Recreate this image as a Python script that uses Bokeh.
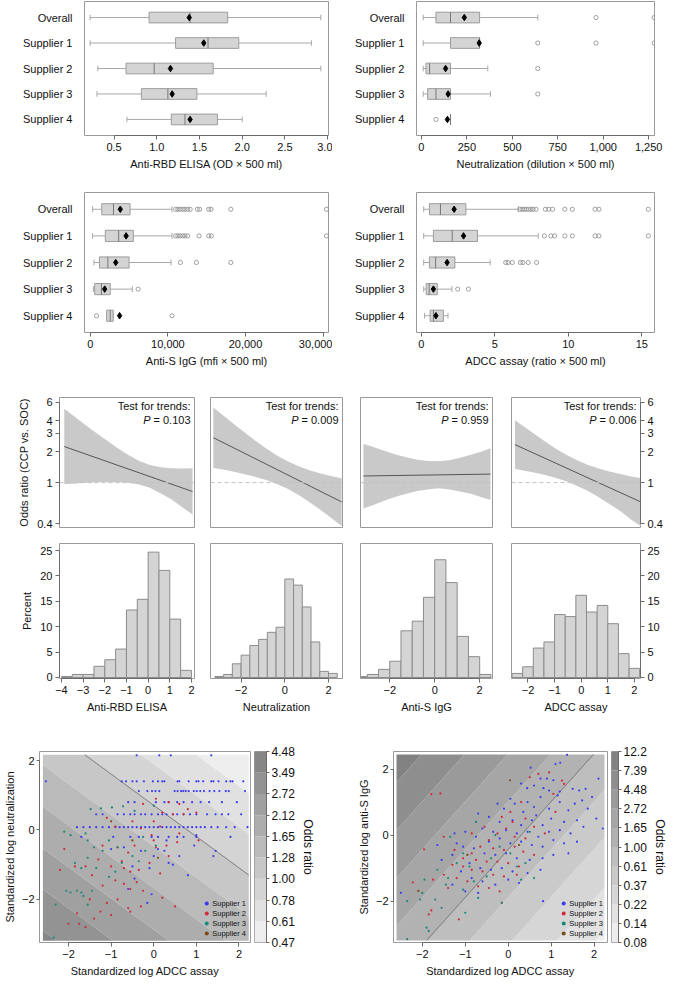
import numpy as np
from bokeh.plotting import figure
from bokeh.layouts import row, column
from bokeh.models import Range1d, FixedTicker, Label, Span, LinearAxis, LogAxis, Legend, LegendItem
from bokeh.embed import file_html
from bokeh.resources import INLINE

# ======================= DATA =======================
box_cats = ["Overall", "Supplier 1", "Supplier 2", "Supplier 3", "Supplier 4"]

elisa_low = [0.22, 0.22, 0.31, 0.30, 0.65]
elisa_q1 = [0.91, 1.22, 0.64, 0.82, 1.17]
elisa_med = [1.39, 1.60, 0.97, 1.13, 1.33]
elisa_q3 = [1.83, 1.96, 1.66, 1.47, 1.71]
elisa_high = [2.92, 2.81, 2.92, 2.28, 2.00]
elisa_mean = [1.38, 1.55, 1.16, 1.18, 1.39]
elisa_out = [[], [], [], [], []]

neut_low = [10, 10, 10, 10, 160]
neut_q1 = [80, 160, 25, 34, 160]
neut_med = [160, 320, 45, 80, 160]
neut_q3 = [320, 320, 160, 160, 160]
neut_high = [640, 320, 365, 380, 160]
neut_mean = [236, 318, 133, 147, 143]
neut_out = [[960, 1280], [640, 960, 1280], [640], [640], [80]]

igg_low = [290, 290, 460, 380, 2100]
igg_q1 = [1470, 1930, 1170, 550, 2100]
igg_med = [2980, 3650, 2260, 1430, 2560]
igg_q3 = [5120, 5540, 4990, 2560, 2940]
igg_high = [10520, 10520, 10400, 5410, 2940]
igg_mean = [3860, 4610, 3270, 1850, 3770]
igg_out = [[10990, 11280, 11570, 11910, 12200, 12540, 12870, 13800, 14090, 15260, 15560, 18110, 30440],
           [10990, 11280, 11570, 11910, 12200, 12540, 14010, 15260, 15600, 30440],
           [11610, 13670, 18110],
           [6160],
           [800, 10520]]

adcc_low = [0.16, 0.16, 0.16, 0.16, 0.22]
adcc_q1 = [0.55, 0.82, 0.55, 0.33, 0.60]
adcc_med = [1.30, 2.10, 0.97, 0.53, 0.82]
adcc_q3 = [3.03, 3.82, 2.28, 1.08, 1.50]
adcc_high = [6.60, 7.95, 4.68, 2.08, 1.81]
adcc_mean = [2.23, 2.87, 1.75, 0.82, 0.99]
adcc_out = [[6.70, 6.85, 7.00, 7.15, 7.30, 7.45, 7.60, 7.80, 8.44, 8.66, 8.92, 9.76, 10.27, 11.82, 12.08, 15.44],
            [8.37, 8.81, 9.06, 9.76, 10.27, 11.82, 12.08, 15.44],
            [5.74, 5.90, 6.19, 6.74, 6.91, 7.27, 7.84],
            [2.47, 3.20],
            []]

# odds ratio curves (panel b, top)
or_names = ["Anti-RBD ELISA", "Neutralization", "Anti-S IgG", "ADCC assay"]
or_pvalues = ["0.103", "0.009", "0.959", "0.006"]
or1_x = [-3.87, -3.37, -2.88, -2.39, -1.89, -1.40, -0.91, -0.41, 0.08, 0.57, 1.07, 1.56, 2.05]
or1_hi = [5.20, 4.34, 3.61, 3.03, 2.55, 2.16, 1.85, 1.62, 1.48, 1.41, 1.38, 1.37, 1.38]
or1_lo = [0.97, 0.98, 1.00, 1.01, 1.01, 1.01, 1.00, 0.96, 0.89, 0.79, 0.69, 0.58, 0.49]
or1_fit = [2.24, 0.82]
or2_x = [-3.27, -2.77, -2.28, -1.79, -1.30, -0.85, -0.36, 0.13, 0.63, 1.12, 1.61, 2.10, 2.60]
or2_hi = [5.37, 4.41, 3.63, 3.01, 2.50, 2.14, 1.83, 1.61, 1.44, 1.32, 1.23, 1.16, 1.10]
or2_lo = [1.39, 1.33, 1.27, 1.20, 1.13, 1.06, 0.97, 0.87, 0.76, 0.65, 0.55, 0.46, 0.38]
or2_fit = [2.73, 0.65]
or3_x = [-3.17, -2.70, -2.22, -1.74, -1.26, -0.78, -0.30, 0.17, 0.65, 1.13, 1.61, 2.09, 2.48]
or3_hi = [2.39, 2.20, 2.03, 1.88, 1.76, 1.67, 1.62, 1.61, 1.65, 1.74, 1.86, 2.01, 2.15]
or3_lo = [0.56, 0.61, 0.67, 0.73, 0.78, 0.83, 0.86, 0.88, 0.86, 0.82, 0.78, 0.72, 0.68]
or3_fit = [1.16, 1.21]
or4_x = [-2.49, -2.09, -1.68, -1.28, -0.92, -0.51, -0.15, 0.26, 0.66, 1.06, 1.47, 1.87, 2.24]
or4_hi = [4.04, 3.40, 2.86, 2.43, 2.11, 1.83, 1.65, 1.48, 1.37, 1.28, 1.21, 1.15, 1.11]
or4_lo = [1.36, 1.30, 1.24, 1.17, 1.10, 1.02, 0.93, 0.83, 0.72, 0.62, 0.53, 0.44, 0.38]
or4_fit = [2.34, 0.65]
or_ticks = [0.4, 1, 2, 3, 4, 6]

# histograms (panel b, bottom)
h1_edges = [-4.0, -3.5, -3.0, -2.5, -2.0, -1.5, -1.0, -0.5, 0.0, 0.5, 1.0, 1.5, 2.0]
h1_pct = [0.2, 0.6, 0.6, 2.2, 3.5, 5.6, 13.3, 15.4, 24.7, 21.1, 11.5, 1.4]
h2_edges = [-3.2, -2.8, -2.4, -2.0, -1.6, -1.2, -0.8, -0.4, 0.0, 0.4, 0.8, 1.2, 1.6, 2.0, 2.4]
h2_pct = [0.2, 0.6, 2.7, 4.4, 6.3, 7.5, 8.9, 9.9, 19.4, 18.2, 13.9, 7.0, 1.2, 0.8]
h3_edges = [-3.5, -3.0, -2.5, -2.0, -1.5, -1.0, -0.5, 0.0, 0.5, 1.0, 1.5, 2.0, 2.5]
h3_pct = [0.2, 0.6, 1.6, 3.2, 9.2, 11.1, 15.8, 23.2, 18.7, 8.1, 4.1, 0.6]
h4_edges = [-2.6, -2.2, -1.8, -1.4, -1.0, -0.6, -0.2, 0.2, 0.6, 1.0, 1.4, 1.8, 2.2]
h4_pct = [0.8, 2.1, 5.8, 7.0, 12.4, 12.0, 16.2, 12.9, 14.2, 10.6, 4.7, 1.8]
pct_ticks = [0, 5, 10, 15, 20, 25]

# panel c / d: odds-ratio contour bands (boundary lines y = slope*x + intercept)
c_levels = [0.47, 0.61, 0.78, 1.00, 1.28, 1.65, 2.12, 2.72, 3.49, 4.48]
c_level_labels = ["0.47", "0.61", "0.78", "1.00", "1.28", "1.65", "2.12", "2.72", "3.49", "4.48"]
c_intercepts = [4.30, 3.06, 1.89, 0.71, -0.47, -1.67, -2.87, -4.05, -5.24, -6.43]
c_slope = -0.90
c_colors = ["#eeeeee", "#e1e1e1", "#d4d4d4", "#c7c7c7", "#bababa", "#adadad", "#a0a0a0", "#939393", "#868686"]
d_levels = [0.08, 0.14, 0.22, 0.37, 0.61, 1.00, 1.65, 2.72, 4.48, 7.39, 12.2]
d_level_labels = ["0.08", "0.14", "0.22", "0.37", "0.61", "1.00", "1.65", "2.72", "4.48", "7.39", "12.2"]
d_intercepts = [-7.76, -6.14, -4.83, -3.32, -1.885, -0.435, 1.015, 2.465, 3.915, 5.365, 6.82]
d_slope = 1.45
d_colors = ["#eeeeee", "#e2e2e2", "#d6d6d6", "#cacaca", "#bebebe", "#b2b2b2", "#a6a6a6", "#9a9a9a", "#8e8e8e", "#828282"]

suppliers = ["Supplier 1", "Supplier 2", "Supplier 3", "Supplier 4"]

# panel c points: (standardized log ADCC, standardized log neutralization)
c_sup1 = [(-0.40, 2.15), (0.13, 2.15), (0.40, 2.15), (1.35, 2.15),
          (-2.53, 1.40), (-0.75, 1.40), (-0.65, 1.40), (-0.50, 1.40), (-0.40, 1.40), (-0.23, 1.40), (-0.02, 1.40),
          (0.10, 1.40), (0.20, 1.40), (0.25, 1.40), (0.56, 1.40), (0.60, 1.40), (0.82, 1.40), (1.00, 1.40),
          (1.05, 1.40), (1.16, 1.40), (1.35, 1.40), (1.40, 1.40), (1.52, 1.40), (1.70, 1.40), (1.80, 1.40),
          (1.85, 1.40), (2.10, 1.40),
          (-0.35, 1.12), (-0.15, 1.12), (-0.04, 1.12), (0.04, 1.12), (0.13, 1.12), (0.49, 1.12), (0.56, 1.12),
          (0.64, 1.12), (0.69, 1.12), (0.75, 1.12), (0.82, 1.12), (0.94, 1.12), (1.01, 1.12), (1.09, 1.12),
          (1.18, 1.12), (1.31, 1.12), (1.42, 1.12), (1.54, 1.12), (1.69, 1.12), (1.76, 1.12), (2.14, 1.12),
          (-0.60, 0.80), (-0.45, 0.80), (0.05, 0.80), (0.25, 0.80), (0.35, 0.80), (0.55, 0.80), (0.70, 0.80),
          (0.90, 0.80), (1.10, 0.80), (1.30, 0.80), (1.60, 0.80), (1.95, 0.80),
          (-1.35, 0.45), (-1.20, 0.45), (-0.85, 0.45), (-0.70, 0.45), (-0.55, 0.45), (-0.45, 0.45), (-0.30, 0.45),
          (-0.20, 0.45), (-0.05, 0.45), (0.10, 0.45), (0.20, 0.45), (0.30, 0.45), (0.45, 0.45), (0.55, 0.45),
          (0.70, 0.45), (0.85, 0.45), (1.00, 0.45), (1.25, 0.45), (1.45, 0.45), (1.60, 0.45), (1.75, 0.45),
          (2.05, 0.45),
          (-1.80, 0.08), (-1.65, 0.08), (-1.50, 0.08), (-1.35, 0.08), (-1.20, 0.08), (-1.05, 0.08), (-0.90, 0.08),
          (-0.80, 0.08), (-0.70, 0.08), (-0.60, 0.08), (-0.50, 0.08), (-0.40, 0.08), (-0.30, 0.08), (-0.20, 0.08),
          (-0.10, 0.08), (0.00, 0.08), (0.10, 0.08), (0.20, 0.08), (0.30, 0.08), (0.40, 0.08), (0.50, 0.08),
          (0.60, 0.08), (0.70, 0.08), (0.80, 0.08), (0.90, 0.08), (1.00, 0.08), (1.10, 0.08), (1.20, 0.08),
          (1.35, 0.08), (1.50, 0.08), (1.70, 0.08), (1.90, 0.08), (2.20, 0.08),
          (-1.70, -0.20), (-0.95, -0.20), (-0.55, -0.20), (-0.35, -0.20), (-0.05, -0.20), (0.10, -0.20),
          (0.35, -0.20), (0.55, -0.20), (0.70, -0.20), (1.00, -0.20), (1.80, -0.20),
          (-1.00, -0.55), (-0.70, -0.50), (-0.30, -0.60), (0.00, -0.75), (0.35, -0.95), (0.45, -1.00),
          (0.80, -1.30), (1.00, -0.15), (1.45, -0.60), (-0.10, -1.10), (0.10, -0.55), (-0.50, -1.05),
          (0.25, -0.60), (-0.60, -1.70), (-0.05, -1.85), (-0.45, -1.40), (-0.15, -2.10), (0.30, -0.30),
          (0.60, -0.75), (0.95, -0.45), (1.40, -0.75)]
c_sup2 = [(-0.25, 0.75), (0.05, 0.90), (0.35, 0.80), (0.60, 0.75), (0.80, 0.60), (0.20, 0.50), (0.45, 0.45),
          (0.70, 0.45), (0.00, 0.25), (0.15, 0.10), (-0.05, -0.15), (-1.10, 0.35), (-0.90, 0.10), (-0.50, 0.25),
          (-0.30, 0.05), (0.00, -0.30), (0.05, -0.50), (0.30, -0.45), (0.60, -0.10), (1.00, 0.50), (1.05, -0.30),
          (-0.45, -0.45), (-0.60, -0.65), (-0.85, -0.50), (-1.20, -0.45), (-2.10, -0.55), (-2.20, -1.15),
          (-1.85, -1.05), (-1.60, -1.05), (-1.45, -1.30), (-1.30, -0.85), (-1.00, -1.05), (-0.75, -0.90),
          (-0.55, -1.20), (-0.35, -1.15), (-0.10, -0.95), (0.15, -1.25), (-1.20, -1.60), (-0.90, -1.45),
          (-0.70, -1.55), (-0.55, -1.70), (-0.40, -1.50), (-0.25, -1.75), (0.20, -1.95), (-1.50, -2.00),
          (-1.10, -2.10), (-0.85, -2.00), (-0.60, -2.25), (-0.30, -2.20), (0.50, -2.20), (-1.80, -2.40),
          (-1.00, -2.45), (-0.55, -2.35), (-1.25, -2.35), (-2.00, -2.70), (-1.75, -2.70), (-1.60, -2.80),
          (-1.40, -2.55), (-0.70, -1.10), (0.35, -0.75), (0.55, -0.35)]
c_sup3 = [(-1.48, 0.60), (-1.24, 0.62), (-0.98, 0.65), (-0.72, 0.68), (0.00, 0.70), (-0.45, 0.55),
          (-2.10, -0.05), (-1.95, -0.15), (-1.60, -0.10), (-1.55, -0.30), (-1.40, -0.50), (-1.20, -0.60),
          (-1.05, -0.30), (-0.85, -0.50), (-0.75, -0.95), (-0.50, -0.75), (-0.35, -0.90), (-0.20, -0.60),
          (-1.85, -0.95), (-1.70, -1.10), (-1.55, -0.80), (-1.35, -1.10), (-1.05, -1.35), (-0.90, -1.20),
          (-2.05, -1.75), (-1.95, -1.80), (-1.80, -1.75), (-1.70, -1.80), (-1.65, -1.90), (-1.45, -1.75),
          (-1.55, -2.15), (-2.30, -2.15), (-2.35, -3.10), (-0.25, -0.20), (0.05, -0.45)]
c_sup4 = [(-0.50, -0.30), (-1.00, 0.25), (0.10, -0.80)]

# panel d points: (standardized log ADCC, standardized log anti-S IgG)
d_sup1 = [(1.37, 2.43), (1.21, 2.19), (1.10, 2.15), (0.52, 2.04), (0.75, 1.71), (0.90, 1.71), (1.05, 1.66),
          (0.30, 1.56), (0.44, 1.42), (0.60, 1.50), (0.82, 1.42), (1.20, 1.32), (1.50, 1.40), (1.65, 1.35),
          (1.80, 1.40), (2.10, 1.71), (1.95, 1.15), (1.72, 1.05), (1.20, 1.00), (0.75, 1.15), (0.45, 1.00),
          (0.15, 0.95), (-0.10, 0.80), (0.05, 1.10), (0.35, 0.70), (0.60, 0.85), (0.95, 0.80), (1.40, 0.75),
          (1.85, 0.80), (2.05, 0.50), (1.60, 0.45), (1.30, 0.40), (1.00, 0.50), (0.80, 0.30), (0.55, 0.45),
          (0.30, 0.30), (0.10, 0.45), (-0.20, 0.40), (-0.45, 0.55), (-0.60, 0.20), (-0.35, 0.10), (-0.05, 0.15),
          (0.20, 0.05), (0.45, 0.10), (0.70, -0.05), (0.95, 0.10), (1.20, 0.15), (1.45, 0.05), (1.75, 0.25),
          (2.20, 0.20), (1.60, -0.20), (1.30, -0.25), (1.05, -0.15), (0.80, -0.35), (0.55, -0.30), (0.30, -0.20),
          (0.05, -0.25), (-0.20, -0.10), (-0.45, -0.20), (-0.75, -0.05), (-1.00, 0.10), (-1.25, 0.05),
          (-1.05, -0.35), (-0.80, -0.40), (-0.55, -0.55), (-0.30, -0.60), (-0.05, -0.55), (0.20, -0.70),
          (0.50, -0.75), (0.80, -0.70), (1.05, -0.60), (1.40, -0.55), (-1.30, -0.60), (-1.55, -0.75),
          (-0.90, -0.85), (-0.65, -1.00), (-0.40, -1.05), (-0.15, -1.00), (0.10, -1.10), (0.45, -1.15),
          (0.75, -1.05), (-1.10, -1.10), (-0.85, -1.30), (-0.60, -1.40), (-0.30, -1.50), (0.00, -1.35),
          (0.25, -1.45), (-1.30, -1.50), (-1.00, -1.70), (-0.70, -1.75), (0.81, -2.00), (-2.50, -1.75),
          (-1.20, -0.25), (-1.65, -0.30), (0.65, 0.60), (1.15, 1.20), (0.95, 1.35), (1.55, 0.95), (-0.25, 0.95),
          (-0.70, 0.65)]
d_sup2 = [(0.50, 1.75), (0.70, 1.85), (0.95, 1.90), (1.25, 1.65), (1.30, 1.55), (1.05, 1.25), (-1.79, 1.24),
          (-1.58, 1.26), (0.30, 1.00), (0.05, 0.70), (-0.15, 0.55), (0.10, 0.40), (0.40, 0.50), (0.60, 0.25),
          (-0.05, 0.20), (-0.25, 0.05), (0.15, -0.05), (0.40, -0.10), (-0.45, -0.15), (-0.65, -0.35),
          (-0.35, -0.40), (-0.10, -0.45), (0.15, -0.35), (0.35, -0.50), (-0.85, -0.55), (-1.05, -0.70),
          (-0.75, -0.75), (-0.50, -0.80), (-0.25, -0.80), (0.00, -0.85), (0.25, -0.95), (-1.30, -0.90),
          (-1.05, -0.95), (-0.85, -1.05), (-0.60, -1.10), (-0.35, -1.20), (-0.10, -1.25), (0.20, -1.20),
          (-1.50, -1.20), (-1.20, -1.30), (-0.95, -1.40), (-0.70, -1.55), (-0.45, -1.60), (-1.75, -1.35),
          (-1.40, -1.60), (-0.20, -1.70), (-1.96, -0.43), (-2.22, -1.43), (-1.15, -2.55), (-1.79, -2.28),
          (-1.85, -2.40), (0.60, -0.60), (0.85, 0.05), (1.10, 0.70), (-0.55, 0.25), (-0.85, 0.05),
          (-1.50, -0.05), (-1.25, -0.45), (-0.15, -2.05)]
d_sup3 = [(-2.35, -2.00), (-2.05, -1.95), (-1.95, -1.35), (-1.70, -1.95), (-1.45, -1.50), (-1.65, -1.05),
          (-1.40, -1.30), (-1.20, -0.85), (-1.05, -0.55), (-0.90, -0.95), (-0.80, -1.40), (-0.50, -1.25),
          (-0.40, -0.70), (-0.20, -0.35), (0.05, -0.55), (0.20, -0.95), (0.40, -0.85), (0.30, -1.35),
          (-1.85, -2.90), (-2.35, -3.15), (-1.05, -1.65), (-0.70, -1.90), (-0.15, -2.05), (-1.35, -0.05),
          (0.50, 0.10), (-0.75, 0.40), (-1.55, -2.20), (-1.90, -2.80), (0.60, -1.30), (-0.30, 0.00),
          (-2.00, -1.75), (-1.00, -2.35)]
d_sup4 = [(0.04, 1.66), (-2.09, -1.69), (0.25, -0.30), (-0.95, -0.60)]

# ======================= STYLE / GEOMETRY =======================
FONT = "Liberation Sans"
TXT = "#111111"
AXC = "#6a6a6a"
FRAME = "#9a9a9a"
BOX_FILL, BOX_LINE, WHISK, MED, OUTC = "#d4d4d4", "#9c9c9c", "#a8a8a8", "#777777", "#8a8a8a"
HIST_FILL, HIST_LINE = "#d4d4d4", "#8c8c8c"
BAND, ORLINE, REFLINE = "#c9c9c9", "#555555", "#c2c2c2"
SUP_COLORS = ["#3c3cf2", "#d2283a", "#17897a", "#7b4a15"]
FS = "11px"

SX = 669 / 685
SY = 987 / 1003


def sx(v):
    return int(round(v * SX))


def sy(v):
    return int(round(v * SY))


def mk(box, frame, xr, yr, ylog=False):
    X0, X1, Y0, Y1 = box
    fx0, fx1, fy0, fy1 = frame
    p = figure(width=sx(X1) - sx(X0), height=sy(Y1) - sy(Y0),
               x_range=Range1d(*xr), y_range=Range1d(*yr),
               y_axis_type=("log" if ylog else "linear"),
               x_axis_location=None, y_axis_location=None, tools="",
               toolbar_location=None, output_backend="svg")
    p.min_border_left = sx(fx0) - sx(X0)
    p.min_border_right = sx(X1) - sx(fx1)
    p.min_border_top = sy(fy0) - sy(Y0)
    p.min_border_bottom = sy(Y1) - sy(fy1)
    p.xgrid.visible = False
    p.ygrid.visible = False
    p.outline_line_color = FRAME
    p.outline_line_width = 1
    p.background_fill_color = "white"
    p.border_fill_color = "white"
    return p


def add_axis(p, side, ticks, labels, log=False, bounds=None, label=None, line=True,
             size=FS, tick_out=4, standoff=3, label_standoff=4):
    cls = LogAxis if log else LinearAxis
    ax = cls(ticker=FixedTicker(ticks=ticks, minor_ticks=[]))
    ax.major_label_overrides = {t: l for t, l in zip(ticks, labels)}
    ax.major_label_text_font = FONT
    ax.major_label_text_font_size = size
    ax.major_label_text_color = TXT
    ax.minor_tick_line_color = None
    if line:
        ax.axis_line_color = AXC
        ax.major_tick_line_color = AXC
        ax.major_tick_out = tick_out
        ax.major_tick_in = 0
    else:
        ax.axis_line_color = None
        ax.major_tick_line_color = None
    ax.major_label_standoff = standoff
    if bounds is not None:
        ax.bounds = bounds
    if label:
        ax.axis_label = label
        ax.axis_label_text_font = FONT
        ax.axis_label_text_font_size = size
        ax.axis_label_text_font_style = "normal"
        ax.axis_label_text_color = TXT
        ax.axis_label_standoff = label_standoff
    p.add_layout(ax, side)
    return ax


def add_text(p, text, x, y, dx, dy, align="left", size=FS, style="normal"):
    p.add_layout(Label(x=x, y=y, x_offset=dx, y_offset=dy, text=text, text_align=align,
                       text_baseline="top", text_font=FONT, text_font_size=size,
                       text_font_style=style, text_color=TXT))


MINUS = "\u2212"


def fmt(v):
    s = ("%g" % v)
    return s.replace("-", MINUS)


# ======================= PANEL a: box plots =======================
def box_panel(box, frame, xr, ticks, labels, xlabel, low, q1, med, q3, high, mean, outs):
    p = mk(box, frame, xr, (0.37, 5.63))
    ys = [5, 4, 3, 2, 1]
    cap = 0.11
    hh = 0.21
    p.segment(x0=low, y0=ys, x1=q1, y1=ys, line_color=WHISK, line_width=1)
    p.segment(x0=q3, y0=ys, x1=high, y1=ys, line_color=WHISK, line_width=1)
    p.segment(x0=low, y0=[y - cap for y in ys], x1=low, y1=[y + cap for y in ys], line_color=WHISK)
    p.segment(x0=high, y0=[y - cap for y in ys], x1=high, y1=[y + cap for y in ys], line_color=WHISK)
    p.hbar(y=ys, left=q1, right=q3, height=2 * hh, fill_color=BOX_FILL, line_color=BOX_LINE, line_width=1)
    p.segment(x0=med, y0=[y - hh for y in ys], x1=med, y1=[y + hh for y in ys], line_color=MED, line_width=1)
    ox, oy = [], []
    for y, o in zip(ys, outs):
        ox += o
        oy += [y] * len(o)
    p.scatter(x=ox, y=oy, marker="circle", size=4.2, fill_color=None, line_color=OUTC, line_width=0.8)
    p.scatter(x=mean, y=ys, marker="diamond", size=6.5, fill_color="black", line_color="black")
    add_axis(p, "left", ys, box_cats, line=False, standoff=6)
    add_axis(p, "below", ticks, labels, bounds=(ticks[0], ticks[-1]), label=xlabel)
    return p


A1 = box_panel((0, 340, 0, 180), (86, 336, 1, 137), (0.154, 3.01),
               [0.5, 1.0, 1.5, 2.0, 2.5, 3.0], ["0.5", "1.0", "1.5", "2.0", "2.5", "3.0"],
               "Anti-RBD ELISA (OD \u00d7 500 ml)",
               elisa_low, elisa_q1, elisa_med, elisa_q3, elisa_high, elisa_mean, elisa_out)
A2 = box_panel((340, 685, 0, 180), (426, 670, 1, 137), (-27, 1282),
               [0, 250, 500, 750, 1000, 1250], ["0", "250", "500", "750", "1,000", "1,250"],
               "Neutralization (dilution \u00d7 500 ml)",
               neut_low, neut_q1, neut_med, neut_q3, neut_high, neut_mean, neut_out)
A3 = box_panel((0, 340, 180, 378), (86, 336, 195, 337), (-755, 30700),
               [0, 10000, 20000, 30000], ["0", "10,000", "20,000", "30,000"],
               "Anti-S IgG (mfi \u00d7 500 ml)",
               igg_low, igg_q1, igg_med, igg_q3, igg_high, igg_mean, igg_out)
A4 = box_panel((340, 685, 180, 378), (426, 670, 195, 337), (-0.33, 15.86),
               [0, 5, 10, 15], ["0", "5", "10", "15"],
               "ADCC assay (ratio \u00d7 500 ml)",
               adcc_low, adcc_q1, adcc_med, adcc_q3, adcc_high, adcc_mean, adcc_out)
add_text(A1, "a", 0.154, 5.63, -sx(84), 1, style="bold")

# ======================= PANEL b =======================
col_boxes = [(0, 207), (207, 360), (360, 514), (514, 685)]
col_frames = [(60, 199), (215, 350), (369, 504), (523, 655)]
col_xr = [(-4.09, 2.14), (-3.40, 2.64), (-3.30, 2.57), (-2.62, 2.23)]
or_data = [(or1_x, or1_lo, or1_hi, or1_fit), (or2_x, or2_lo, or2_hi, or2_fit),
           (or3_x, or3_lo, or3_hi, or3_fit), (or4_x, or4_lo, or4_hi, or4_fit)]
hist_data = [(h1_edges, h1_pct), (h2_edges, h2_pct), (h3_edges, h3_pct), (h4_edges, h4_pct)]
hist_ticks = [[-4, -3, -2, -1, 0, 1, 2], [-2, 0, 2], [-2, 0, 2], [-2, -1, 0, 1, 2]]

or_yr = (0.367, 6.7)
B_figs, H_figs = [], []
for i in range(4):
    (X0, X1), (fx0, fx1), xr = col_boxes[i], col_frames[i], col_xr[i]
    x, lo, hi, fit = or_data[i]
    p = mk((X0, X1, 378, 543), (fx0, fx1, 403, 536), xr, or_yr, ylog=True)
    p.varea(x=x, y1=lo, y2=hi, fill_color=BAND, fill_alpha=1)
    p.add_layout(Span(location=1, dimension="width", line_color=REFLINE, line_dash="4 3", line_width=1))
    p.line(x=[x[0], x[-1]], y=fit, line_color=ORLINE, line_width=1)
    add_text(p, "Test for trends:", xr[1], or_yr[1], -sx(4.5), -sy(2), align="right")
    add_text(p, "= " + or_pvalues[i], xr[1], or_yr[1], -sx(4.5), -sy(16.5), align="right")
    add_text(p, "P", xr[1], or_yr[1], -sx(4.5) - 40, -sy(16.5), align="right", style="italic")
    if i == 0:
        add_axis(p, "left", or_ticks, ["0.4", "1", "2", "3", "4", "6"], log=True,
                 bounds=(0.4, 6), label="Odds ratio (CCP vs. SOC)")
        add_text(p, "b", xr[0], or_yr[1], -sx(58), 0, style="bold")
    if i == 3:
        add_axis(p, "right", or_ticks, ["0.4", "1", "2", "3", "4", "6"], log=True, bounds=(0.4, 6))
    B_figs.append(p)

    edges, pct = hist_data[i]
    h = mk((X0, X1, 543, 730), (fx0, fx1, 552, 689), xr, (-0.2, 26.4))
    h.quad(left=edges[:-1], right=edges[1:], bottom=0, top=pct, fill_color=HIST_FILL,
           line_color=HIST_LINE, line_width=1)
    t = hist_ticks[i]
    add_axis(h, "below", t, [fmt(v) for v in t], bounds=(t[0], t[-1]), label=or_names[i])
    if i == 0:
        add_axis(h, "left", pct_ticks, [str(v) for v in pct_ticks], bounds=(0, 25), label="Percent")
    if i == 3:
        add_axis(h, "right", pct_ticks, [str(v) for v in pct_ticks], bounds=(0, 25))
    H_figs.append(h)


# ======================= PANELS c / d =======================
def contour_panel(box, frame, xr, yr, gx, gy, slope, intercepts, levels, colors, groups, ylabel, letter):
    p = mk(box, frame, xr, yr)
    xs = np.linspace(gx[0], gx[1], 600)
    for k, col in enumerate(colors):
        b1, b2 = intercepts[k], intercepts[k + 1]
        lo_b, hi_b = min(b1, b2), max(b1, b2)
        y1 = np.clip(slope * xs + lo_b, gy[0], gy[1])
        y2 = np.clip(slope * xs + hi_b, gy[0], gy[1])
        p.varea(x=xs, y1=y1, y2=y2, fill_color=col, fill_alpha=1)
    # OR = 1 contour line, clipped to the grid rectangle
    b = intercepts[levels.index(1.0)]
    ly = slope * xs + b
    m = (ly >= gy[0]) & (ly <= gy[1])
    p.line(x=xs[m], y=ly[m], line_color="#666666", line_width=1)
    rs = []
    for (pts, col) in zip(groups, SUP_COLORS):
        r = p.scatter(x=[q[0] for q in pts], y=[q[1] for q in pts], marker="circle", size=2.2,
                      fill_color=col, line_color=None)
        rs.append(r)
    lg = Legend(items=[LegendItem(label=s, renderers=[r]) for s, r in zip(suppliers, rs)],
                location="bottom_right", label_text_font=FONT, label_text_font_size="7.5px",
                glyph_height=10, glyph_width=10, label_height=8, spacing=-2, padding=1, margin=4,
                border_line_color=None, background_fill_alpha=0, label_standoff=1,
                label_text_color=TXT)
    p.add_layout(lg)
    add_axis(p, "below", [-2, -1, 0, 1, 2], [fmt(v) for v in [-2, -1, 0, 1, 2]], bounds=(-2, 2),
             label="Standardized log ADCC assay", standoff=3, label_standoff=4)
    add_axis(p, "left", [-2, 0, 2], [fmt(v) for v in [-2, 0, 2]], bounds=(-2, 2),
             label=ylabel, tick_out=3, standoff=2, label_standoff=3)
    add_text(p, letter[0], xr[0], yr[1], letter[1], letter[2], style="bold")
    return p


def colorbar(box, frame, labels, colors):
    n = len(colors)
    p = mk(box, frame, (0, 1), (0, n))
    p.quad(left=0, right=1, bottom=list(range(n)), top=list(range(1, n + 1)), fill_color=colors,
           line_color=None)
    add_axis(p, "right", list(range(n + 1)), labels, label="Odds ratio", size="12px",
             tick_out=3, standoff=2, label_standoff=3)
    return p


C = contour_panel((0, 258, 730, 1003), (37, 256, 753, 963), (-2.68, 2.27), (-3.24, 2.26),
                  (-2.60, 2.23), (-3.19, 2.17), c_slope, c_intercepts, c_levels, c_colors,
                  [c_sup1, c_sup2, c_sup3, c_sup4], "Standardized log neutralization",
                  ("c", -sx(35), 1))
CB = colorbar((258, 340, 730, 1003), (260, 272, 761, 957), c_level_labels, c_colors)
D = contour_panel((340, 624, 730, 1003), (402, 622, 757, 965), (-2.67, 2.31), (-3.25, 2.53),
                  (-2.60, 2.24), (-3.19, 2.44), d_slope, d_intercepts, d_levels, d_colors,
                  [d_sup1, d_sup2, d_sup3, d_sup4], "Standardized log anti-S IgG",
                  ("d", -sx(34), 5))
DB = colorbar((624, 685, 730, 1003), (626, 637, 763, 959), d_level_labels, d_colors)

layout = column(row(A1, A2), row(A3, A4), row(*B_figs), row(*H_figs), row(C, CB, D, DB))

open("out.html", "w").write(file_html(layout, INLINE, title="Convalescent plasma antibody panels"))
